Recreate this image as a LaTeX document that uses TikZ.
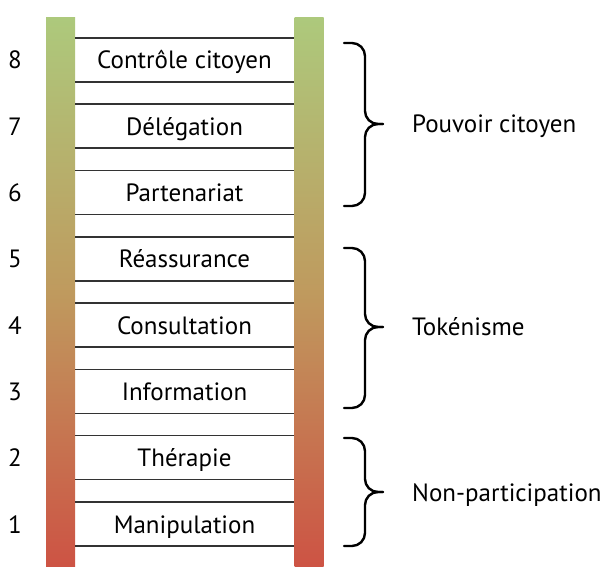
\documentclass[tikz,border=0pt]{standalone}
\usepackage{fontspec}
\setmainfont{PT Sans}
\definecolor{railtop}{HTML}{ADC97C}
\definecolor{railmid}{HTML}{BF9A5E}
\definecolor{railbot}{HTML}{CD5344}
\definecolor{rungcol}{HTML}{333333}
\tikzset{
  rail/.style={draw=none,rectangle,minimum width=29pt,minimum height=549pt,inner sep=0pt,
    top color=railtop,bottom color=railbot,middle color=railmid},
  rung/.style={draw=rungcol,line width=1.4pt},
  lbl/.style={font=\fontsize{25}{30}\selectfont,anchor=base,inner sep=0pt},
  num/.style={font=\fontsize{25}{30}\selectfont,anchor=base,inner sep=0pt},
  grp/.style={font=\fontsize{25}{30}\selectfont,anchor=base west,inner sep=0pt},
  bracestyle/.style={line width=2.4pt,line cap=round,rounded corners=13pt}
}
\begin{document}
\begin{tikzpicture}[x=1pt,y=-1pt]
\useasboundingbox (0,0) rectangle (605,567);
\node[rail] (lr) at (60.5,292.5) {};
\node[rail] (rr) at (309,292.5) {};
\foreach \k/\t in {1/Manipulation,2/Thérapie,3/Information,4/Consultation,5/Réassurance,6/Partenariat,7/Délégation,8/Contrôle citoyen}{
  \pgfmathsetmacro{\top}{502-(\k-1)*66.3}
  \pgfmathsetmacro{\bot}{\top+44}
  \pgfmathsetmacro{\mid}{\top+22}
  \coordinate (a\k) at (75,\top);
  \coordinate (b\k) at (294,\top);
  \coordinate (c\k) at (75,\bot);
  \coordinate (d\k) at (294,\bot);
  \draw[rung] (a\k) -- (b\k);
  \draw[rung] (c\k) -- (d\k);
  \node[lbl] (t\k) at (184.5,\mid+9) {\t};
  \node[num] (n\k) at (15,\mid+9) {\k};
}
% braces
\foreach \i/\s/\e/\m in {1/43/206/124,2/248/408/327,3/438/546/492}{
  \coordinate (g\i s) at (344,\s);
  \coordinate (g\i e) at (344,\e);
  \coordinate (g\i t) at (383,\m);
  \draw[bracestyle] (g\i s) -- (365,\s) -- (365,\m) -- (g\i t);
  \draw[bracestyle] (g\i e) -- (365,\e) -- (365,\m) -- (g\i t);
}
\node[grp] (p1) at (412,133) {Pouvoir citoyen};
\node[grp] (p2) at (412,335) {Tokénisme};
\node[grp] (p3) at (412,501) {Non-participation};
\end{tikzpicture}
\end{document}
